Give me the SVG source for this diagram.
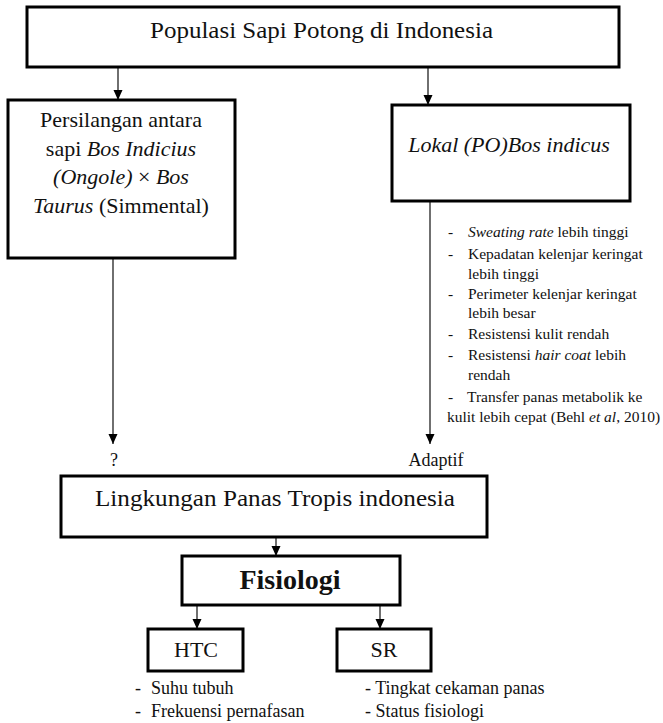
<svg xmlns="http://www.w3.org/2000/svg" width="663" height="723" viewBox="0 0 663 723">
<style>
.box{fill:#fff;stroke:#000;stroke-width:3}
.t{font-family:"Liberation Serif","Times New Roman",serif;fill:#111}
.c{text-anchor:middle}
.ln{stroke:#222;stroke-width:1.3;fill:none}
.i{font-style:italic}
</style>
<defs>
<marker id="ah" markerUnits="userSpaceOnUse" markerWidth="10" markerHeight="10" viewBox="0 0 10 10" refX="10" refY="5" orient="auto">
<path d="M0,0.5 L10,5 L0,9.5 z" fill="#000"/>
</marker>
</defs>
<g id="connectors">
<line class="ln" x1="118" y1="67" x2="118" y2="100" marker-end="url(#ah)"/>
<line class="ln" x1="428" y1="67" x2="428" y2="105" marker-end="url(#ah)"/>
<line class="ln" x1="113" y1="258" x2="113" y2="444" marker-end="url(#ah)"/>
<line class="ln" x1="430" y1="201" x2="430" y2="444" marker-end="url(#ah)"/>
<line class="ln" x1="276" y1="537" x2="276" y2="556" marker-end="url(#ah)"/>
<line class="ln" x1="197" y1="605" x2="197" y2="629" marker-end="url(#ah)"/>
<line class="ln" x1="380" y1="605" x2="380" y2="629" marker-end="url(#ah)"/>
</g>
<g id="populasi">
<rect class="box" x="27" y="7" width="592" height="60"/>
<text class="t" x="150" y="38" font-size="23" textLength="343" lengthAdjust="spacingAndGlyphs">Populasi Sapi Potong di Indonesia</text>
</g>
<g id="persilangan">
<rect class="box" x="8" y="100" width="227" height="158"/>
<text class="t c" x="121" y="127" font-size="22">Persilangan antara</text>
<text class="t c" x="121" y="156" font-size="22">sapi <tspan class="i">Bos Indicius</tspan></text>
<text class="t c" x="121" y="184" font-size="22"><tspan class="i">(Ongole)</tspan> × <tspan class="i">Bos</tspan></text>
<text class="t c" x="121" y="213" font-size="22"><tspan class="i">Taurus</tspan> (Simmental)</text>
</g>
<g id="lokal">
<rect class="box" x="392" y="105" width="238" height="96"/>
<text class="t c i" x="509" y="152" font-size="22">Lokal (PO)Bos indicus</text>
</g>
<g id="ciri-lokal" class="t" font-size="15.5">
<text x="448" y="237">-</text><text x="468" y="237"><tspan class="i">Sweating rate</tspan> lebih tinggi</text>
<text x="448" y="259">-</text><text x="468" y="259">Kepadatan kelenjar keringat</text>
<text x="468" y="279">lebih tinggi</text>
<text x="448" y="299">-</text><text x="468" y="299">Perimeter kelenjar keringat</text>
<text x="468" y="318">lebih besar</text>
<text x="448" y="339">-</text><text x="468" y="339">Resistensi kulit rendah</text>
<text x="448" y="360">-</text><text x="468" y="360">Resistensi <tspan class="i">hair coat</tspan> lebih</text>
<text x="468" y="380">rendah</text>
<text x="448" y="402">-</text><text x="467" y="402">Transfer panas metabolik ke</text>
<text x="447" y="422">kulit lebih cepat (Behl <tspan class="i">et al</tspan>, 2010)</text>
</g>
<g id="label-q">
<text class="t c" x="114" y="466" font-size="18">?</text>
</g>
<g id="label-adaptif">
<text class="t c" x="436" y="466" font-size="18">Adaptif</text>
</g>
<g id="lingkungan">
<rect class="box" x="61" y="476" width="426" height="61"/>
<text class="t" x="95" y="506" font-size="23" textLength="360" lengthAdjust="spacingAndGlyphs">Lingkungan Panas Tropis indonesia</text>
</g>
<g id="fisiologi">
<rect class="box" x="182" y="556" width="218" height="49"/>
<text class="t c" x="290" y="589" font-size="28" font-weight="bold">Fisiologi</text>
</g>
<g id="htc">
<rect class="box" x="148" y="629" width="95" height="42"/>
<text class="t c" x="196" y="657" font-size="22">HTC</text>
</g>
<g id="sr">
<rect class="box" x="337" y="629" width="94" height="42"/>
<text class="t c" x="384" y="657" font-size="22">SR</text>
</g>
<g id="htc-list" class="t" font-size="18">
<text x="135" y="694">-</text><text x="151" y="694">Suhu tubuh</text>
<text x="135" y="717">-</text><text x="151" y="717">Frekuensi pernafasan</text>
</g>
<g id="sr-list" class="t" font-size="18">
<text x="365" y="694">- Tingkat cekaman panas</text>
<text x="365" y="717">- Status fisiologi</text>
</g>
</svg>
